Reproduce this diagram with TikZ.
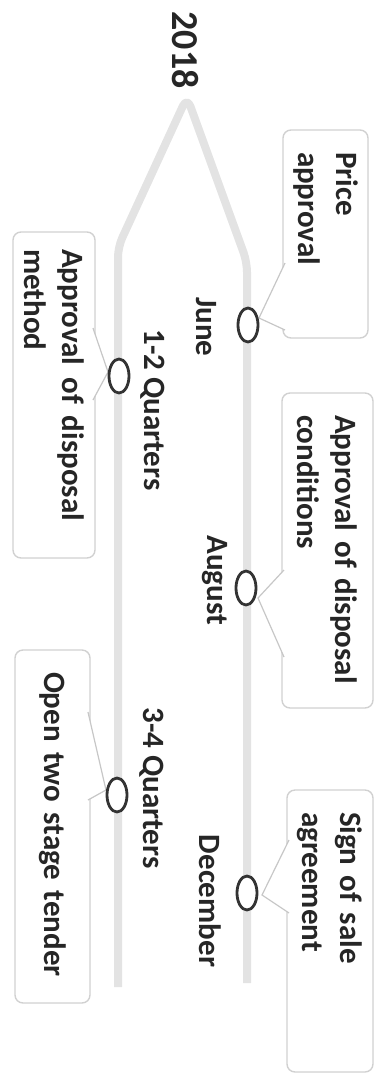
\documentclass[tikz,border=0pt]{standalone}
\usepackage{fontspec}
\setmainfont{Carlito}
\usetikzlibrary{shapes.geometric}

\begin{document}
\begin{tikzpicture}[
  x=0.5pt, y=-0.5pt,
  every node/.style={font=\bfseries\fontsize{15.5}{19}\selectfont, text=black!85},
  tag/.style={rotate=-90, inner sep=1pt},
  stone/.style={ellipse, draw=black!80, fill=white, line width=1.4pt,
    minimum width=10pt, minimum height=17pt, inner sep=0pt},
  note/.style={rotate=-90, draw=black!18, fill=white, line width=0.7pt,
    rounded corners=4pt, align=left, inner xsep=11pt, inner ysep=0pt},
  track/.style={draw=black!11, line width=4pt, line join=round, rounded corners=5pt},
  pointer/.style={draw=black!22, line width=0.6pt},
]
  \useasboundingbox (0,0) rectangle (382,1078);

  % year and the two tracks
  \node[tag, font=\bfseries\fontsize{19}{22}\selectfont] (yr) at (185,50) {2018};
  \coordinate (fork) at (187,97);
  \coordinate (lbend) at (118,247);
  \coordinate (lend) at (118,987);
  \coordinate (rbend) at (247,262);
  \coordinate (rend) at (247,983);
  \draw[track] (rend) -- (rbend) -- (fork) -- (lbend) -- (lend);

  % notes
  \node[note, text width=82pt, minimum height=42.5pt] (pa) at (325.5,234) {Price\\approval};
  \node[note, text width=135.5pt, minimum height=45.5pt] (ac) at (327.5,550.5) {Approval of disposal\\conditions};
  \node[note, text width=119pt, minimum height=43pt] (sa) at (330,931) {Sign of sale\\agreement};
  \node[note, text width=146pt, inner xsep=8.5pt, minimum height=41pt] (am) at (54,395) {\mbox{Approval\hspace{6pt}of\hspace{6pt}disposal}\\method};
  \node[note, text width=154.5pt, minimum height=37.5pt] (ot) at (52.5,826.5) {Open two stage tender};

  % pointers
  \coordinate (paA) at (285,263);
  \coordinate (paT) at (259,318);
  \coordinate (paB) at (285,330);
  \fill[white] (paA) -- (paT) -- (paB) -- cycle;
  \draw[pointer] (paA) -- (paT) -- (paB);
  \coordinate (acA) at (284,570);
  \coordinate (acT) at (258,598);
  \coordinate (acB) at (284,657);
  \fill[white] (acA) -- (acT) -- (acB) -- cycle;
  \draw[pointer] (acA) -- (acT) -- (acB);
  \coordinate (saA) at (289,840);
  \coordinate (saT) at (262,895);
  \coordinate (saB) at (289,913);
  \fill[white] (saA) -- (saT) -- (saB) -- cycle;
  \draw[pointer] (saA) -- (saT) -- (saB);
  \coordinate (amA) at (93,328);
  \coordinate (amT) at (108,372);
  \coordinate (amB) at (93,400);
  \fill[white] (amA) -- (amT) -- (amB) -- cycle;
  \draw[pointer] (amA) -- (amT) -- (amB);
  \coordinate (otA) at (88,712);
  \coordinate (otT) at (106,790);
  \coordinate (otB) at (88,800);
  \fill[white] (otA) -- (otT) -- (otB) -- cycle;
  \draw[pointer] (otA) -- (otT) -- (otB);

  % milestones
  \node[stone] (cjune) at (248,325) {};
  \node[stone] (caug) at (246,588) {};
  \node[stone] (cdec) at (247,893) {};
  \node[stone] (cqa) at (119,376) {};
  \node[stone] (cqb) at (117,795) {};

  \node[tag] (june) at (206,327) {June};
  \node[tag] (aug) at (215,580) {August};
  \node[tag] (dec) at (210,901) {December};
  \node[tag] (qa) at (153,410) {1-2 Quarters};
  \node[tag] (qb) at (152,788) {3-4 Quarters};
\end{tikzpicture}
\end{document}
